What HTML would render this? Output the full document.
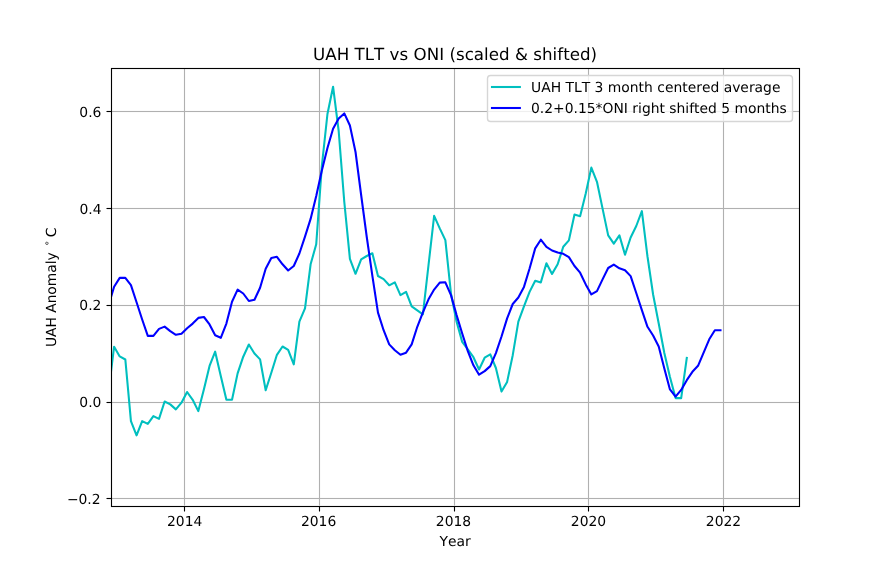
<!DOCTYPE html>
<html lang="en"><head><meta charset="utf-8"><title>UAH TLT vs ONI (scaled &amp; shifted)</title>
<style>
html,body{margin:0;padding:0;background:#fff;overflow:hidden}
body{width:888px;height:568px}
svg{display:block}
text{font-family:"DejaVu Sans","Liberation Sans",sans-serif;fill:#000;font-kerning:none;font-variant-ligatures:none;text-rendering:geometricPrecision}
.t{font-size:13.889px}
.g{stroke:#b0b0b0;stroke-width:1.111;fill:none}
.k{stroke:#000;stroke-width:1.111;fill:none}
.c{fill:none;stroke-width:2.083;stroke-linejoin:round;stroke-linecap:square}
</style></head>
<body>
<svg width="888" height="568" viewBox="0 0 888 568">
<rect width="888" height="568" fill="#fff"/>
<defs><clipPath id="ax"><rect x="111" y="68.16" width="688.2" height="437.36"/></clipPath></defs>
<g class="g">
<line x1="184.5" y1="68.16" x2="184.5" y2="505.52"/>
<line x1="319.5" y1="68.16" x2="319.5" y2="505.52"/>
<line x1="454.5" y1="68.16" x2="454.5" y2="505.52"/>
<line x1="588.5" y1="68.16" x2="588.5" y2="505.52"/>
<line x1="723.5" y1="68.16" x2="723.5" y2="505.52"/>
</g>
<g fill="#b0b0b0">
<rect x="111" y="110.945" width="688.2" height="1.111"/>
<rect x="111" y="207.945" width="688.2" height="1.111"/>
<rect x="111" y="304.945" width="688.2" height="1.111"/>
<rect x="111" y="401.945" width="688.2" height="1.111"/>
<rect x="111" y="497.945" width="688.2" height="1.111"/>
</g>
<g class="k">
<line x1="184.5" y1="506.5" x2="184.5" y2="511.5"/>
<line x1="319.5" y1="506.5" x2="319.5" y2="511.5"/>
<line x1="454.5" y1="506.5" x2="454.5" y2="511.5"/>
<line x1="588.5" y1="506.5" x2="588.5" y2="511.5"/>
<line x1="723.5" y1="506.5" x2="723.5" y2="511.5"/>
<line x1="106.5" y1="111.5" x2="111.5" y2="111.5"/>
<line x1="106.5" y1="208.5" x2="111.5" y2="208.5"/>
<line x1="106.5" y1="305.5" x2="111.5" y2="305.5"/>
<line x1="106.5" y1="402.5" x2="111.5" y2="402.5"/>
<line x1="106.5" y1="498.5" x2="111.5" y2="498.5"/>
</g>
<g clip-path="url(#ax)">
<polyline class="c" stroke="#00bfbf" points="108.49,392.00 114.10,346.70 119.71,356.40 125.33,359.50 130.94,421.10 136.56,435.30 142.17,421.10 147.79,423.90 153.40,416.10 159.02,418.90 164.63,401.50 170.25,404.40 175.86,409.40 181.48,402.70 187.09,392.00 192.70,399.80 198.32,411.10 203.93,389.30 209.55,365.90 215.16,351.70 220.78,375.90 226.39,399.70 232.01,399.70 237.62,373.40 243.24,356.70 248.85,344.50 254.47,353.50 260.08,359.40 265.69,390.30 271.31,372.70 276.92,354.80 282.54,346.50 288.15,349.80 293.77,364.40 299.38,321.70 305.00,308.40 310.61,264.30 316.23,244.30 321.84,166.00 327.45,114.00 333.07,86.70 338.68,131.00 344.30,202.00 349.91,258.80 355.53,273.80 361.14,259.40 366.76,256.00 372.37,253.30 377.99,276.00 383.60,279.10 389.22,285.30 394.83,282.30 400.44,295.10 406.06,291.80 411.67,306.40 417.29,310.30 422.90,314.30 428.52,265.00 434.13,215.90 439.75,228.40 445.36,240.10 450.98,293.60 456.59,321.80 462.21,341.90 467.82,349.40 473.43,357.20 479.05,369.50 484.66,357.70 490.28,354.30 495.89,368.00 501.51,391.60 507.12,381.90 512.74,355.20 518.35,321.70 523.97,306.30 529.58,291.90 535.20,280.70 540.81,282.40 546.42,263.20 552.04,273.90 557.65,264.30 563.27,246.80 568.88,240.40 574.50,214.50 580.11,216.20 585.73,193.50 591.34,167.60 596.96,181.80 602.57,208.60 608.18,235.40 613.80,243.60 619.41,235.40 625.03,254.80 630.64,237.50 636.26,226.00 641.87,211.20 647.49,256.50 653.10,294.50 658.72,323.50 664.33,353.00 669.95,377.00 675.56,398.10 681.17,398.10 686.79,358.00"/>
<polyline class="c" stroke="#0000ff" points="108.49,305.40 114.10,286.80 119.71,277.90 125.33,277.90 130.94,285.10 136.56,302.30 142.17,319.50 147.79,335.90 153.40,335.90 159.02,328.90 164.63,326.60 170.25,331.10 175.86,334.80 181.48,333.80 187.09,328.20 192.70,323.60 198.32,317.90 203.93,317.00 209.55,324.40 215.16,335.30 220.78,337.80 226.39,323.60 232.01,301.80 237.62,289.60 243.24,293.50 248.85,301.00 254.47,299.80 260.08,287.70 265.69,268.80 271.31,258.10 276.92,256.80 282.54,264.30 288.15,270.50 293.77,266.00 299.38,253.50 305.00,236.70 310.61,218.90 316.23,196.00 321.84,170.50 327.45,148.00 333.07,128.80 338.68,118.60 344.30,113.40 349.91,125.50 355.53,152.00 361.14,195.00 366.76,237.00 372.37,275.80 377.99,312.60 383.60,330.20 389.22,344.40 394.83,350.20 400.44,354.70 406.06,352.70 411.67,344.40 417.29,326.80 422.90,312.30 428.52,299.30 434.13,289.60 439.75,282.60 445.36,282.30 450.98,295.10 456.59,315.10 462.21,333.50 467.82,351.10 473.43,365.30 479.05,374.70 484.66,371.10 490.28,366.10 495.89,353.10 501.51,336.50 507.12,318.40 512.74,304.00 518.35,297.50 523.97,286.90 529.58,268.50 535.20,248.40 540.81,239.70 546.42,246.80 552.04,250.50 557.65,252.60 563.27,253.80 568.88,257.10 574.50,266.00 580.11,272.70 585.73,284.40 591.34,294.40 596.96,291.10 602.57,279.40 608.18,268.00 613.80,264.60 619.41,268.30 625.03,270.20 630.64,276.10 636.26,293.00 641.87,310.10 647.49,326.80 653.10,335.50 658.72,346.40 664.33,368.50 669.95,389.40 675.56,396.60 681.17,389.90 686.79,380.20 692.40,371.80 698.02,365.80 703.63,352.60 709.25,339.30 714.86,330.20 720.48,330.20"/>
</g>
<rect class="k" x="111.5" y="68.5" width="688" height="438"/>
<g class="t" text-anchor="middle">
<text x="184.7" y="525.6">2014</text>
<text x="318.6" y="525.6">2016</text>
<text x="453.5" y="525.6">2018</text>
<text x="588.5" y="525.6">2020</text>
<text x="723.5" y="525.6">2022</text>
</g>
<g class="t" text-anchor="end">
<text x="101.4" y="117.3">0.6</text>
<text x="101.5" y="214.3">0.4</text>
<text x="101.4" y="310.3">0.2</text>
<text x="101.4" y="407.3">0.0</text>
<text x="100.6" y="504.3">−0.2</text>
</g>
<text class="t" x="455.1" y="545.5" text-anchor="middle">Year</text>
<text class="t" transform="translate(55.75,347) rotate(-90)"><tspan letter-spacing="-0.07">UAH Anomaly </tspan><tspan x="100.75" y="-5.85" font-size="9.722px">∘</tspan><tspan x="109.7" y="0">C</tspan></text>
<text x="455.1" y="59.8" font-size="16.667px" text-anchor="middle" letter-spacing="0.03">UAH TLT vs ONI (scaled &amp; shifted)</text>
<rect x="487.5" y="75.5" width="305" height="46" rx="3.1" ry="3.1" fill="#fff" fill-opacity="0.8" stroke="#d6d6d6" stroke-width="1.389"/>
<line x1="490.95" y1="87" x2="520.9" y2="87" stroke="#00bfbf" stroke-width="2.083"/>
<line x1="490.95" y1="108" x2="520.9" y2="108" stroke="#0000ff" stroke-width="2.083"/>
<text class="t" x="531" y="91.7">UAH TLT 3 month centered average</text>
<text class="t" x="531" y="113.1">0.2+0.15*ONI right shifted 5 months</text>
</svg>
</body></html>
